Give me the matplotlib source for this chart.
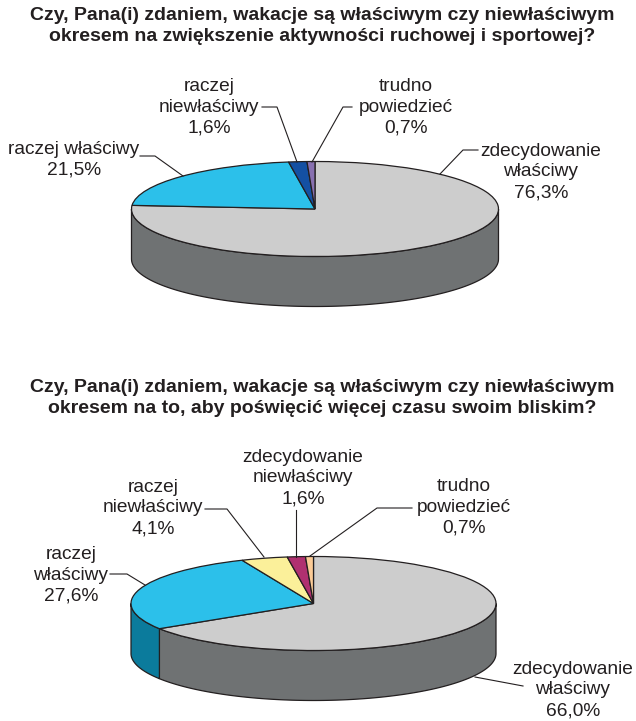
# two flattened 3d pies with leader lines

import numpy as np
import matplotlib
matplotlib.use('Agg')
import matplotlib.pyplot as plt

plt.rcParams['font.family'] = ['Liberation Sans', 'DejaVu Sans']

# data
values_top = [76.3, 21.5, 1.6, 0.7]
values_bottom = [66.0, 27.6, 4.1, 1.6, 0.7]

title_top = 'Czy, Pana(i) zdaniem, wakacje są właściwym czy niewłaściwym\nokresem na zwiększenie aktywności ruchowej i sportowej?'
title_bottom = 'Czy, Pana(i) zdaniem, wakacje są właściwym czy niewłaściwym\nokresem na to, aby poświęcić więcej czasu swoim bliskim?'

labels_top = ['zdecydowanie\nwłaściwy\n76,3%', 'raczej właściwy\n21,5%', 'raczej\nniewłaściwy\n1,6%', 'trudno\npowiedzieć\n0,7%']
labels_bottom = ['zdecydowanie\nwłaściwy\n66,0%', 'raczej\nwłaściwy\n27,6%', 'raczej\nniewłaściwy\n4,1%', 'zdecydowanie\nniewłaściwy\n1,6%', 'trudno\npowiedzieć\n0,7%']

# colours
colors_top = ['#cdcdcd', '#2cc0ea', '#1450a3', '#8870b0']
walls_top = ['#6f7273', '#0b7b9c', '#0c3068', '#524370']
colors_bottom = ['#cdcdcd', '#2cc0ea', '#fbf09a', '#b03070', '#fbcb96']
walls_bottom = ['#6f7273', '#0b7b9c', '#96905c', '#6a1d43', '#967a5a']
line_color = '#231f20'

# label centres in pixels
pos_top = [(541, 172), (74, 160), (209, 107), (406, 107)]
pos_bottom = [(573, 690), (71, 575), (153, 508), (303, 478), (464, 507)]

# leader lines in pixels
leaders_top = [[(478, 150), (463, 150), (440, 174)],
               [(140, 156), (155, 156), (183, 176)],
               [(262, 107), (277, 107), (297, 162)],
               [(352, 107), (343, 107), (312, 162)]]
leaders_bottom = [[(523, 686), (475, 677)],
                  [(110, 574), (127, 574), (145, 585)],
                  [(205, 509), (227, 509), (264, 557)],
                  [(296, 510), (296, 557)],
                  [(412, 508), (377, 508), (310, 556)]]

W, H = 636, 721
fig = plt.figure(figsize=(W / 100, H / 100), dpi=100)


def draw_pie(values, colors, walls, cx, cy, a, b, depth):
	# axes spans exactly the top ellipse, data runs from -1 to 1
	ax = fig.add_axes([(cx - a) / W, 1 - (cy + b) / H, 2 * a / W, 2 * b / H])
	wedges, _ = ax.pie(values, colors=colors, startangle=90, counterclock=False, radius=1,
					   wedgeprops=dict(edgecolor=line_color, linewidth=0.9))
	ax.set_aspect('auto')
	for w in wedges:
		w.set_zorder(3)
		w.set_clip_on(False)

	# side wall, only the front half of the rim is visible
	d = depth / b
	for w, wall in zip(wedges, walls):
		t1, t2 = w.theta1 % 360, w.theta2 % 360
		if t2 <= t1:
			t2 += 360
		for shift in (0, 360, -360):
			lo = max(t1 + shift, 180)
			hi = min(t2 + shift, 360)
			if hi <= lo:
				continue
			t = np.radians(np.linspace(lo, hi, 120))
			x = np.cos(t)
			y = np.sin(t)
			px = np.concatenate([x, x[::-1]])
			py = np.concatenate([y, y[::-1] - d])
			ax.fill(px, py, facecolor=wall, edgecolor=line_color, linewidth=0.9, zorder=2, clip_on=False)
	ax.set_xlim(-1, 1)
	ax.set_ylim(-1, 1)
	ax.axis('off')


draw_pie(values_top, colors_top, walls_top, 315, 209, 183.5, 47.5, 50)
draw_pie(values_bottom, colors_bottom, walls_bottom, 313.5, 603.5, 182.5, 47, 50)

# overlay in pixel coordinates for text and leaders
over = fig.add_axes([0, 0, 1, 1])
over.set_xlim(0, W)
over.set_ylim(H, 0)
over.axis('off')
over.patch.set_alpha(0)

for leaders in (leaders_top, leaders_bottom):
	for pts in leaders:
		over.plot([p[0] for p in pts], [p[1] for p in pts], color=line_color, lw=0.8)

for labels, pos in ((labels_top, pos_top), (labels_bottom, pos_bottom)):
	for lab, (x, y) in zip(labels, pos):
		over.text(x, y, lab, ha='center', va='center', fontsize=13.8, color=line_color, linespacing=1.28)

over.text(322, 26, title_top, ha='center', va='center', fontsize=14, fontweight='bold', color=line_color, linespacing=1.3)
over.text(322, 398, title_bottom, ha='center', va='center', fontsize=14, fontweight='bold', color=line_color, linespacing=1.3)

plt.savefig('out.png', dpi=100)
plt.close()
